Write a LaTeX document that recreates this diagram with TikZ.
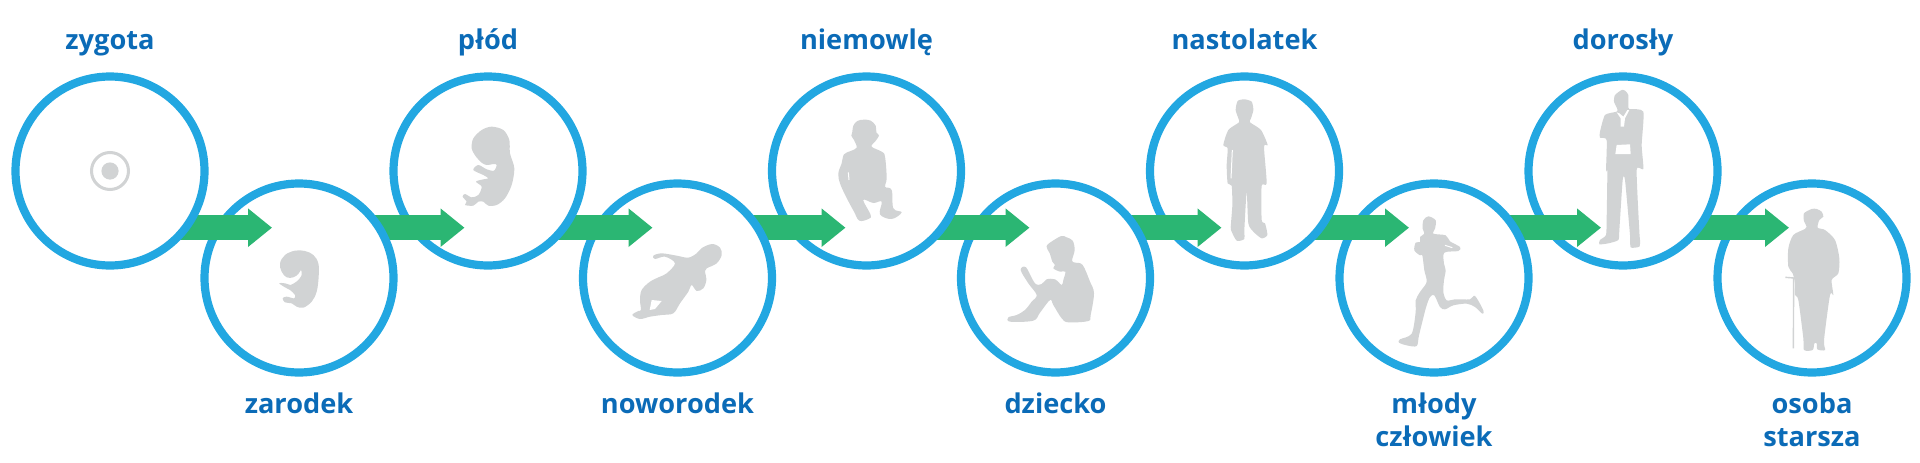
\documentclass[tikz,border=0pt]{standalone}
\usepackage{fontspec}
\setmainfont{Open Sans}
\usetikzlibrary{
	positioning				% relative placement
	, arrows.meta			% tips of the flow arrows
}
\definecolor{ringblue}{HTML}{22A7E1}
\definecolor{flowgreen}{HTML}{2BB673}
\definecolor{textblue}{HTML}{0B6BB7}
\definecolor{silgrey}{HTML}{D1D3D4}

\begin{document}
\begin{tikzpicture}[
			x=1pt, y=-1pt,
			spot/.style={
				circle,
				inner sep=0pt,
				minimum size=197pt
			},
			ring/.style={
				draw=ringblue,
				line width=8.2pt,
				fill=white
			},
			flow/.style={
				-{Triangle[width=37pt,length=24pt]},
				draw=flowgreen,
				fill=flowgreen,
				line width=25pt
			},
			caption/.style={
				anchor=base,
				align=center,
				text=textblue,
				font=\fontsize{27.2}{33}\selectfont\bfseries
			},
			sil/.style={
				fill=silgrey
			},
			slit/.style={
				draw=white,
				line width=1pt
			}]

			\useasboundingbox (0,0) rectangle (1920,463);

			%%% Centres of the ten stages, alternating up and down
			\foreach [count=\i] \xpos/\ypos in {110/171, 299/278, 488/171, 677.5/278, 866.5/171, 1055.5/278, 1244.5/171, 1434/278, 1623/171, 1812/278} {
				\node [spot] (c\i) at (\xpos,\ypos) {};
			};

			% Drawn backwards: an arrow lies on its target and under its source
			\draw [ring] (c10) circle (94.5pt);
			\foreach \i/\j/\gap in {9/10/23, 8/9/22, 7/8/25, 6/7/23, 5/6/26, 4/5/21, 3/4/25, 2/3/23.5, 1/2/27} {
				\draw [flow] (c\i.center |- 0,227.7) -- ([xshift=-\gap pt]c\j.center |- 0,227.7);
				\draw [ring] (c\i) circle (94.5pt);
			};

			%%% Labels above and below the circles, set on the baseline of their last line
			\foreach \i/\name/\base in {1/zygota/49.5, 3/płód/49.5, 5/niemowlę/49.5, 7/nastolatek/49.5, 9/dorosły/49.5, 2/zarodek/413, 4/noworodek/413, 6/dziecko/413, 8/{młody\\człowiek}/446, 10/{osoba\\starsza}/446} {
				\node [caption] (l\i) at (c\i |- 0,\base) {\name};
			};

			%%% Silhouettes, traced in 1/3 pixels from a corner of each crop
			% zygote
			\draw [silgrey, line width=3pt] (c1) circle (18.5pt);
			\fill [sil] (c1) circle (8.6pt);

			% embryo and foetus
			\begin{scope}[shift={(270,120)}, scale=1/3]
				\fill [sil] plot [smooth cycle, tension=0.6] coordinates {(75,392) (45,405) (30,430) (35,455) (50,472) (70,472) (85,462) (93,450) (95,465) (85,480) (72,490) (62,495) (45,490) (28,490) (45,502) (60,510) (75,525) (72,535) (50,530) (38,535) (45,547) (65,550) (80,560) (100,563) (125,545) (140,515) (146,470) (145,430) (130,405) (105,393)};
				\fill [sil] plot [smooth cycle, tension=0.5] coordinates {(665,20) (635,30) (610,55) (605,85) (618,110) (635,128) (650,135) (672,132) (680,135) (672,152) (650,148) (625,135) (610,150) (640,165) (655,175) (640,178) (618,185) (635,200) (625,225) (605,232) (585,222) (578,230) (590,245) (585,255) (610,257) (625,245) (640,245) (655,257) (680,255) (705,235) (725,195) (733,145) (720,100) (718,60) (700,30)};
			\end{scope}

			% newborn
			\begin{scope}[shift={(625,235)}, scale=1/3]
				\fill [sil] plot [smooth cycle, tension=0.55] coordinates {(262,27) (285,38) (290,60) (275,85) (245,100) (240,108) (244,135) (235,160) (215,168) (200,150) (190,170) (165,205) (145,235) (110,240) (75,245) (45,252) (22,240) (40,228) (48,225) (45,195) (50,165) (75,140) (105,125) (125,115) (150,85) (120,65) (90,72) (85,62) (110,55) (155,62) (190,68) (215,55) (232,38)};
				\fill [white] (80,195) -- (110,198) -- (90,222) -- (74,225) -- cycle;
			\end{scope}

			% infant
			\begin{scope}[shift={(830,115)}, scale=1/3]
				\fill [sil] plot [smooth cycle, tension=0.6] coordinates {(102,14) (82,18) (70,32) (67,50) (64,62) (72,75) (80,98) (62,108) (42,118) (35,145) (25,175) (30,205) (48,245) (72,290) (88,317) (115,312) (122,300) (100,255) (130,264) (155,260) (150,298) (185,312) (215,292) (190,280) (185,225) (165,215) (170,190) (165,125) (155,110) (125,95) (135,80) (147,62) (139,52) (137,32) (122,17)};
				\draw [slit] (55,172) -- (57,195);
			\end{scope}

			% child reading
			\begin{scope}[shift={(1000,230)}, scale=1/3]
				\fill [sil] plot [smooth cycle, tension=0.55] coordinates {(185,18) (162,30) (140,48) (150,72) (157,95) (165,105) (160,115) (180,125) (196,125) (190,150) (185,165) (165,148) (140,148) (125,162) (105,160) (78,112) (62,120) (85,160) (110,195) (95,215) (75,240) (50,255) (25,262) (30,275) (100,272) (120,248) (150,210) (160,225) (185,265) (205,277) (265,273) (272,255) (282,190) (270,155) (248,105) (226,98) (216,92) (224,60) (218,32) (200,22)};
			\end{scope}

			% teenager
			\begin{scope}[shift={(1215,95)}, scale=1/3]
				\fill [sil] plot [smooth cycle, tension=0.4] coordinates {(88,13) (68,18) (62,45) (70,70) (72,82) (40,105) (25,150) (38,160) (35,210) (38,265) (50,272) (52,330) (48,385) (48,405) (65,437) (88,432) (88,405) (95,290) (100,385) (115,410) (140,430) (157,420) (150,385) (140,375) (140,272) (155,265) (147,155) (158,150) (138,105) (105,82) (108,70) (115,45) (110,20)};
				\draw [slit] (52,165) -- (48,250);
			\end{scope}

			% runner
			\begin{scope}[shift={(1395,212)}, scale=1/3]
				\fill [sil] plot [smooth cycle, tension=0.5] coordinates {(100,13) (85,25) (83,50) (88,65) (75,75) (75,90) (62,92) (58,115) (75,130) (82,130) (88,175) (95,210) (75,240) (62,265) (62,300) (50,365) (15,382) (12,392) (35,400) (65,402) (72,370) (92,290) (105,255) (118,250) (135,285) (150,292) (175,280) (215,275) (240,285) (262,305) (265,295) (240,252) (225,262) (180,262) (155,265) (145,240) (147,205) (152,175) (147,155) (148,122) (190,117) (195,105) (165,88) (152,70) (115,65) (120,50) (122,25)};
				\draw [slit] (150,100) -- (172,107);
			\end{scope}

			% adult
			\begin{scope}[shift={(1590,85)}, scale=1/3]
				\fill [sil] plot [smooth cycle, tension=0.35] coordinates {(95,15) (75,30) (72,50) (82,72) (80,80) (45,90) (30,140) (30,158) (50,165) (48,258) (52,258) (50,400) (48,450) (30,465) (28,478) (55,475) (85,465) (88,435) (98,285) (105,285) (120,450) (122,487) (148,485) (150,465) (148,440) (140,255) (160,252) (155,180) (160,80) (118,72) (115,68) (115,30) (105,17)};
				\fill [white] (80,180) -- (120,178) -- (122,207) -- (76,207) -- cycle;
				\fill [white] (80,82) -- (92,100) -- (92,125) -- (102,125) -- (105,100) -- (118,75) -- (112,75) -- (100,95) -- (88,85) -- cycle;
			\end{scope}

			% elderly person with a cane
			\begin{scope}[shift={(1780,205)}, scale=1/3]
				\draw [silgrey, line width=1.4pt] (16,217) -- (42,219) (41,219) -- (40,430);
				\fill [sil] plot [smooth cycle, tension=0.45] coordinates {(95,12) (72,25) (72,48) (80,65) (75,72) (40,90) (25,130) (25,185) (38,205) (45,235) (45,270) (55,285) (70,400) (72,435) (98,435) (103,415) (110,415) (112,433) (135,435) (132,405) (150,270) (160,270) (155,225) (175,205) (178,160) (165,105) (135,75) (113,68) (118,45) (130,35) (125,20) (110,12)};
			\end{scope}

		\end{tikzpicture}
\end{document}
